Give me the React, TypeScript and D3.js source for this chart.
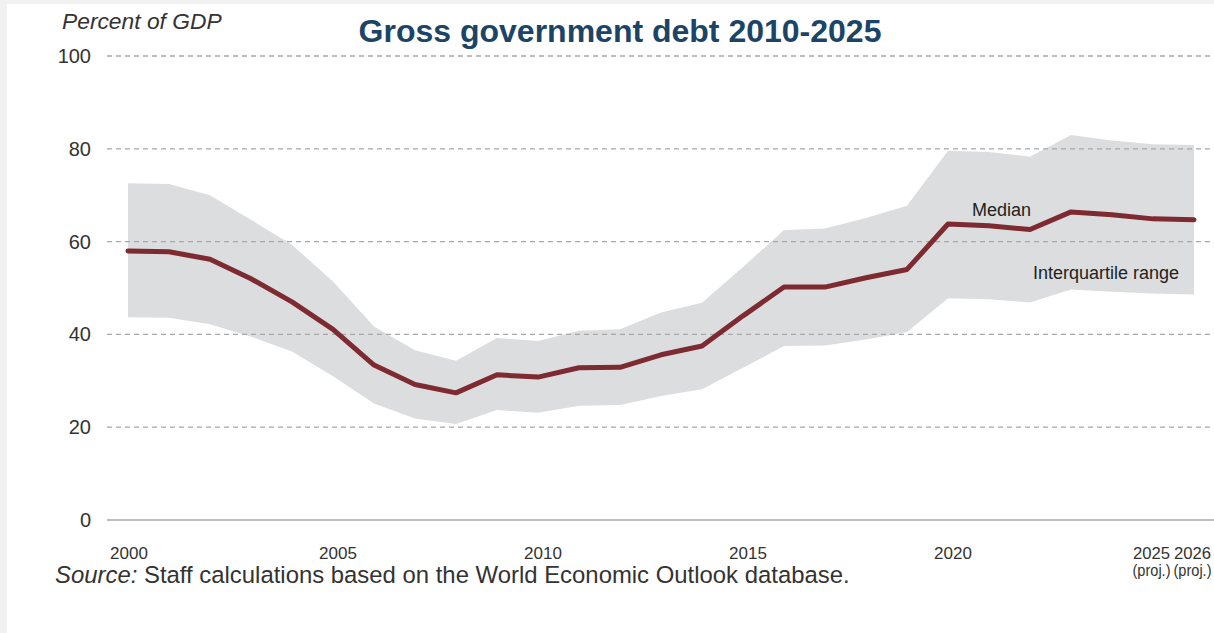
import React from "react";
import * as d3 from "d3";

const years = [2000, 2001, 2002, 2003, 2004, 2005, 2006, 2007, 2008, 2009, 2010, 2011, 2012, 2013, 2014, 2015, 2016, 2017, 2018, 2019, 2020, 2021, 2022, 2023, 2024, 2025, 2026];
const median = [58.0, 57.8, 56.2, 52.0, 47.0, 41.1, 33.4, 29.2, 27.4, 31.3, 30.8, 32.8, 32.9, 35.6, 37.5, 44.0, 50.2, 50.2, 52.2, 54.0, 63.8, 63.4, 62.6, 66.4, 65.8, 64.9, 64.7];
const upper = [72.6, 72.4, 70.0, 64.7, 59.3, 51.4, 41.7, 36.6, 34.3, 39.2, 38.6, 40.8, 41.1, 44.7, 46.8, 54.5, 62.5, 62.8, 65.1, 67.7, 79.6, 79.3, 78.3, 83.0, 81.8, 81.0, 80.8];
const lower = [43.7, 43.6, 42.2, 39.5, 36.3, 31.0, 25.1, 21.9, 20.7, 23.7, 23.1, 24.6, 24.8, 26.7, 28.2, 32.8, 37.5, 37.6, 38.9, 40.5, 47.8, 47.6, 46.9, 49.7, 49.2, 48.8, 48.6];
const yTicks = [0, 20, 40, 60, 80, 100];
const xTickYears = [2000, 2005, 2010, 2015, 2020, 2025, 2026];
const projYears = [2025, 2026];

const W = 1214;
const H = 633;
const FONT = "'Liberation Sans', Arial, Helvetica, sans-serif";

export default function App() {
  const x = d3.scaleLinear().domain([2000, 2026]).range([128, 1194]);
  const y = d3.scaleLinear().domain([0, 100]).range([520, 56]);

  const area = d3
    .area<number>()
    .x((_, i) => x(years[i]))
    .y0((_, i) => y(lower[i]))
    .y1((_, i) => y(upper[i]));
  const line = d3
    .line<number>()
    .x((_, i) => x(years[i]))
    .y((d) => y(d));

  const labelX = (yr: number) => {
    if (yr === 2000) return x(yr) + 1;
    if (yr === 2025) return x(yr) - 1.5;
    if (yr === 2026) return x(yr) - 1.5;
    return x(yr) + 5;
  };

  return (
    <svg
      width={W}
      height={H}
      style={{ position: "fixed", left: 0, top: 0, display: "block" }}
    >
      <rect x={0} y={0} width={W} height={H} fill="#f1f1f1" />
      <rect x={7} y={4} width={W - 7} height={H - 4} fill="#ffffff" />

      {/* band */}
      <path d={area(upper) || ""} fill="#dcdddf" />

      {/* gridlines */}
      {yTicks.map((t) =>
        t === 0 ? (
          <line key={t} x1={107} x2={W} y1={y(t)} y2={y(t)} stroke="#a9a9ad" strokeWidth={1.5} />
        ) : (
          <line
            key={t}
            x1={107}
            x2={W}
            y1={y(t)}
            y2={y(t)}
            stroke="#a8a8a8"
            strokeWidth={1.3}
            strokeDasharray="5 4"
          />
        )
      )}

      {/* median line */}
      <path
        d={line(median) || ""}
        fill="none"
        stroke="#7e2a31"
        strokeWidth={5}
        strokeLinejoin="round"
        strokeLinecap="round"
      />

      {/* y tick labels */}
      {yTicks.map((t) => (
        <text
          key={t}
          x={91}
          y={y(t) + 7}
          textAnchor="end"
          fontFamily={FONT}
          fontSize={20}
          fill="#333"
        >
          {t}
        </text>
      ))}

      {/* x tick labels */}
      {xTickYears.map((yr) => {
        const proj = projYears.includes(yr);
        const cx = labelX(yr);
        return (
          <g key={yr}>
            <text
              x={cx}
              y={559}
              textAnchor="middle"
              fontFamily={FONT}
              fontSize={17}
              fill="#333"
              textLength={proj ? 37 : undefined}
              lengthAdjust="spacingAndGlyphs"
            >
              {yr}
            </text>
            {proj && (
              <text
                x={cx}
                y={576}
                textAnchor="middle"
                fontFamily={FONT}
                fontSize={16}
                fill="#333"
                textLength={38}
                lengthAdjust="spacingAndGlyphs"
              >
                (proj.)
              </text>
            )}
          </g>
        );
      })}

      {/* axis title */}
      <text x={62} y={29} fontFamily={FONT} fontSize={22.8} fontStyle="italic" fill="#333">
        Percent of GDP
      </text>

      {/* title */}
      <text
        x={620}
        y={42}
        textAnchor="middle"
        fontFamily={FONT}
        fontSize={32}
        fontWeight="bold"
        fill="#1b4466"
      >
        Gross government debt 2010-2025
      </text>

      {/* annotations */}
      <text x={972} y={216} fontFamily={FONT} fontSize={18} fill="#222">
        Median
      </text>
      <text x={1033} y={279} fontFamily={FONT} fontSize={18} fill="#222">
        Interquartile range
      </text>

      {/* source */}
      <text x={55} y={583} fontFamily={FONT} fontSize={23.9} fill="#333">
        <tspan fontStyle="italic">Source:</tspan> Staff calculations based on the World Economic Outlook database.
      </text>
    </svg>
  );
}
